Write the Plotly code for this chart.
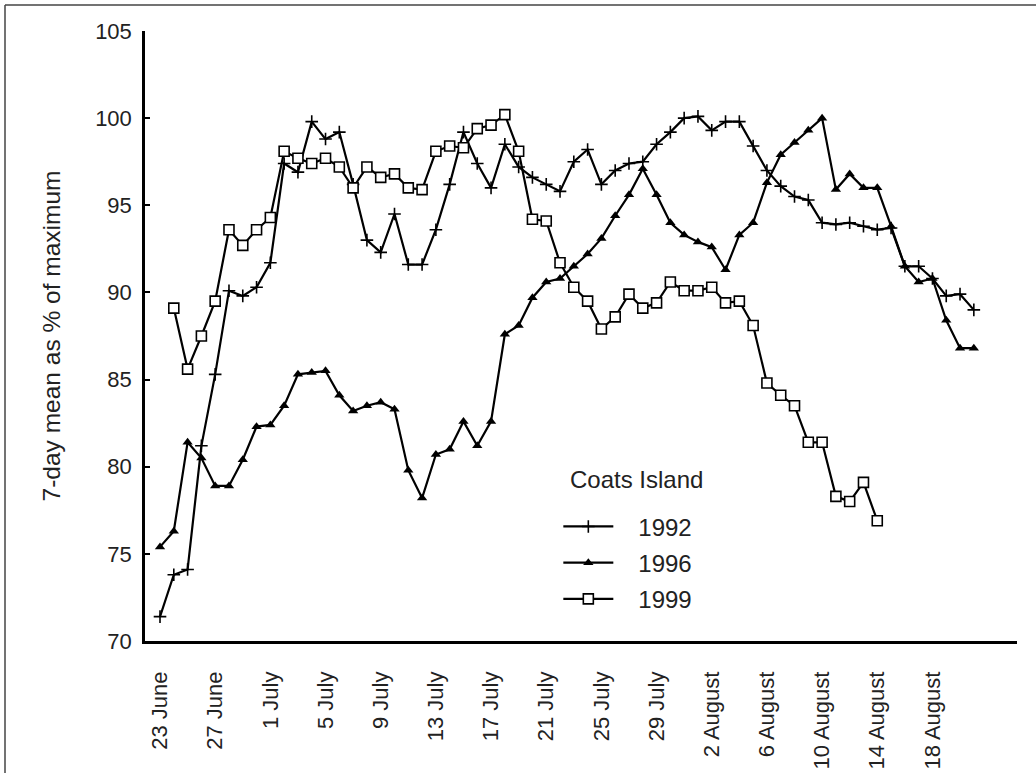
import plotly.graph_objects as go

# ---- data (day 0 = 23 June) ----
tick_days = [0, 4, 8, 12, 16, 20, 24, 28, 32, 36, 40, 44, 48, 52, 56]
tick_labels = ["23 June", "27 June", "1 July", "5 July", "9 July", "13 July",
               "17 July", "21 July", "25 July", "29 July", "2 August",
               "6 August", "10 August", "14 August", "18 August"]

days_1992 = list(range(0, 60))
values_1992 = [71.4, 73.8, 74.1, 81.2, 85.3, 90.1, 89.8, 90.3, 91.7, 97.4,
               96.9, 99.8, 98.8, 99.2, 96.2, 93.0, 92.3, 94.5, 91.6, 91.6,
               93.6, 96.2, 99.2, 97.4, 96.0, 98.5, 97.2, 96.6, 96.2, 95.8,
               97.5, 98.2, 96.2, 97.0, 97.4, 97.5, 98.5, 99.2, 100.0, 100.1,
               99.3, 99.8, 99.8, 98.4, 97.0, 96.1, 95.5, 95.3, 94.0, 93.9,
               94.0, 93.8, 93.6, 93.7, 91.5, 91.5, 90.8, 89.8, 89.9, 89.0]

days_1996 = list(range(0, 60))
values_1996 = [75.4, 76.3, 81.4, 80.5, 78.9, 78.9, 80.4, 82.3, 82.4, 83.5,
               85.3, 85.4, 85.5, 84.1, 83.2, 83.5, 83.7, 83.3, 79.8, 78.2,
               80.7, 81.0, 82.6, 81.2, 82.6, 87.6, 88.1, 89.7, 90.6, 90.8,
               91.5, 92.2, 93.1, 94.4, 95.6, 97.1, 95.6, 94.0, 93.3, 92.9,
               92.6, 91.3, 93.3, 94.0, 96.3, 97.9, 98.6, 99.3, 100.0, 95.9,
               96.8, 96.0, 96.0, 93.8, 91.5, 90.6, 90.8, 88.4, 86.8, 86.8]

days_1999 = list(range(1, 53))
values_1999 = [89.1, 85.6, 87.5, 89.5, 93.6, 92.7, 93.6, 94.3, 98.1, 97.7,
               97.4, 97.7, 97.2, 96.0, 97.2, 96.6, 96.8, 96.0, 95.9, 98.1,
               98.4, 98.3, 99.4, 99.6, 100.2, 98.1, 94.2, 94.1, 91.7, 90.3,
               89.5, 87.9, 88.6, 89.9, 89.1, 89.4, 90.6, 90.1, 90.1, 90.3,
               89.4, 89.5, 88.1, 84.8, 84.1, 83.5, 81.4, 81.4, 78.3, 78.0,
               79.1, 76.9]

y_ticks = [70, 75, 80, 85, 90, 95, 100, 105]
series_names = ["1992", "1996", "1999"]
legend_title = "Coats Island"

# ---- figure ----
W, H = 1036, 773
ML, MR, MT, MB = 145, 19, 31, 132
FONT = "Liberation Sans, Arial, sans-serif"
TXT = "#222222"
PAD = "\u00a0\u00a0\u00a0"  # gap between legend line sample and label

fig = go.Figure()
fig.add_trace(go.Scatter(
    x=days_1992, y=values_1992, name=PAD + series_names[0], mode="lines+markers",
    line=dict(color="black", width=2.2),
    marker=dict(symbol="cross-thin", size=9, line=dict(color="black", width=1.6)),
    legendgroup="a"))
fig.add_trace(go.Scatter(
    x=days_1996, y=values_1996, name=PAD + series_names[1], mode="lines+markers",
    line=dict(color="black", width=2.2),
    marker=dict(symbol="triangle-up", size=9, color="black"),
    legendgroup="b"))
fig.add_trace(go.Scatter(
    x=days_1999, y=values_1999, name=PAD + series_names[2], mode="lines+markers",
    line=dict(color="black", width=2.2),
    marker=dict(symbol="square", size=10, color="white",
                line=dict(color="black", width=1.6)),
    legendgroup="c"))

xr = [-1.088, 62.13]
fig.update_layout(
    width=W, height=H, autosize=False,
    margin=dict(l=ML, r=MR, t=MT, b=MB, autoexpand=False),
    paper_bgcolor="white", plot_bgcolor="white",
    font=dict(family=FONT, color=TXT, size=22),
    showlegend=True,
    legend=dict(
        x=0.474, y=0.224, xanchor="left", yanchor="top",
        bgcolor="rgba(0,0,0,0)", borderwidth=0,
        font=dict(size=24, family=FONT, color=TXT),
        itemwidth=50, traceorder="grouped", tracegroupgap=2,
    ),
    xaxis=dict(
        range=xr, tickmode="array", tickvals=tick_days, ticktext=tick_labels,
        tickangle=-90, ticks="", showline=True, linecolor="black", linewidth=2.5,
        showgrid=False, zeroline=False, ticklabelstandoff=19, automargin=False,
        tickfont=dict(size=22, family=FONT, color=TXT),
    ),
    xaxis2=dict(
        overlaying="x", anchor="y", side="bottom", range=xr,
        tickmode="array", tickvals=list(range(0, 61, 3)),
        ticks="inside", ticklen=4, tickwidth=1.5, tickcolor="black",
        showticklabels=False, showline=False, showgrid=False, zeroline=False,
    ),
    yaxis=dict(
        range=[70, 105], tickmode="array", tickvals=y_ticks,
        ticks="inside", ticklen=5, tickwidth=1.5, tickcolor="black",
        showline=True, linecolor="black", linewidth=2.5,
        showgrid=False, zeroline=False, ticklabelstandoff=6, automargin=False,
        tickfont=dict(size=22, family=FONT, color=TXT),
        title=dict(text="7-day mean as % of maximum", standoff=28,
                   font=dict(size=24.5, family=FONT, color=TXT)),
    ),
)

fig.add_annotation(text=legend_title, xref="paper", yref="paper",
                   x=0.485, y=0.264, xanchor="left", yanchor="middle",
                   showarrow=False, font=dict(size=24, family=FONT, color=TXT))

# outer frame (left and top edges)
pw, ph = W - ML - MR, H - MT - MB
fx0 = (5 - ML) / pw
fy1 = (H - MB - 5) / ph
fy0 = (H - MB - H) / ph
fx1 = (W - ML) / pw
fig.add_shape(type="line", xref="paper", yref="paper", x0=fx0, x1=fx0, y0=fy0, y1=fy1,
              line=dict(color="#444444", width=1.5))
fig.add_shape(type="line", xref="paper", yref="paper", x0=fx0, x1=fx1, y0=fy1, y1=fy1,
              line=dict(color="#444444", width=1.5))

fig.write_html("out.html", config={"displayModeBar": False},
               post_script="document.body.style.margin='0px';")
